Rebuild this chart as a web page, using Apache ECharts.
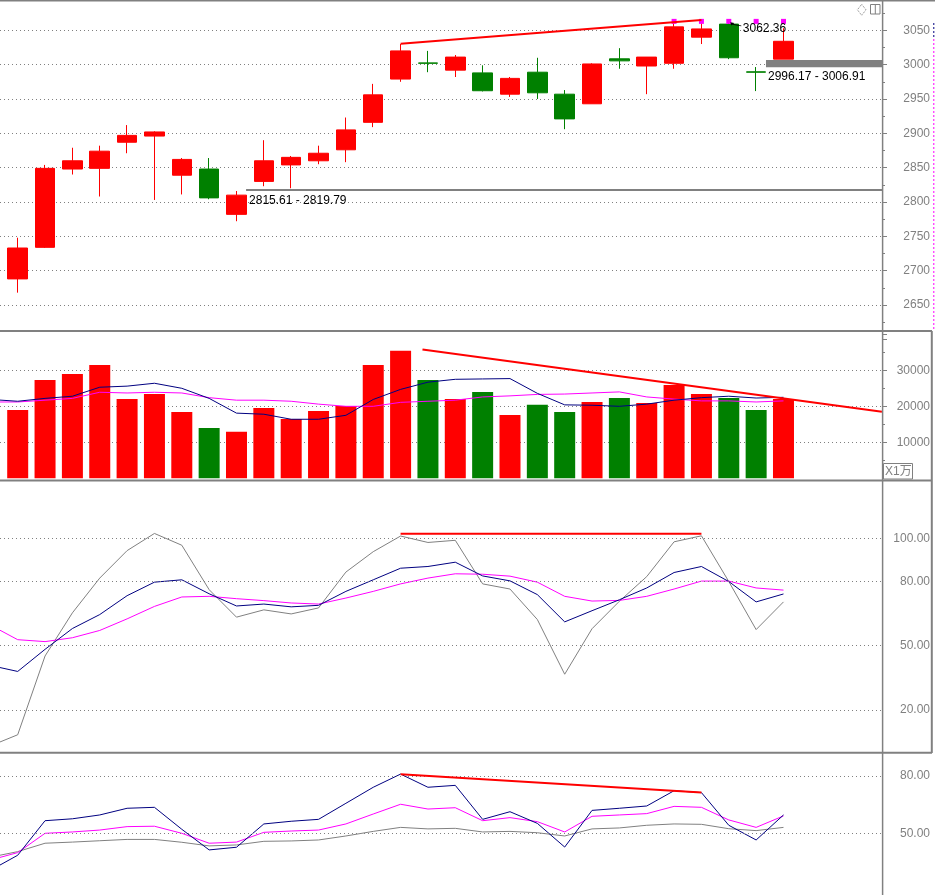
<!DOCTYPE html>
<html><head><meta charset="utf-8">
<script src="https://cdn.jsdelivr.net/npm/echarts@6/dist/echarts.min.js"></script>
<style>html,body{margin:0;padding:0;background:#fff}#c{width:935px;height:895px}</style>
</head><body><div id="c"></div>
<script>
// ---------- data ----------
const openP  = [2688,2734,2848,2849,2887,2896,2839,2848,2782,2830,2854,2860,2876,2916,2979,3002.5,2992,2988,2957,2989,2957,2943,3008.5,2998,3002,3040,3059,2989.5,3008];
const closeP = [2733,2849,2860,2874,2897,2902,2862,2806,2810,2860,2865,2871,2905,2956,3020,3002,3011,2962,2980,2959,2921,3001,3005.5,3011,3055,3052,3010,2989,3034];
const highP  = [2748,2854,2879,2882,2912,2903,2864,2864,2816,2890,2867,2882,2923,2972,3030,3020,3014,2999,2982,3010,2963,3002,3024,3011,3060,3062,3062.36,2996.5,3053];
const lowP   = [2668,2733,2840,2808,2871,2803,2811,2804,2772,2823,2820,2855,2858,2909,2975,2989,2982,2961,2953,2950,2906,2943,2994,2957,2994,3030,3008,2961.5,3008];

const volume = [18970,27300,29000,31500,22000,23400,18400,14000,12900,19500,16500,18700,20100,31500,35400,27300,22000,24000,17600,20400,18400,21200,22300,20900,25900,23400,22300,19000,22000];
const volMA5  = [21400,22200,22800,25300,25600,26400,25000,22200,18100,17800,16400,16400,17500,21900,24700,26700,27500,27600,27700,23600,20400,20300,20000,20600,21700,22400,22800,22300,22500];
const volMA10 = [21200,21700,22200,23900,23700,23900,23700,22400,21700,21700,21400,20600,20000,20000,21100,21400,21700,22600,22900,23300,23400,23700,24000,22600,22000,21500,21500,21200,21500];
const volMA5Lead = 21900, volMA10Lead = 21200;

const kdjJ = [8.5,45.2,65.3,81.5,94.3,102.3,96.8,76.1,63.3,66.7,64.8,67.6,84.3,93.8,101.1,98.1,99.1,78.8,76.4,62.2,36.7,57.9,70.7,82.2,98.4,101.2,79.9,57.5,70.4];
const kdjK = [38.0,48.3,58.0,64.5,73.3,79.6,80.7,74.2,68.5,69.4,68.1,68.8,75.3,80.7,86.1,86.9,88.9,82.5,80.2,73.8,61.1,66.3,71.4,76.9,84.1,86.9,79.9,70.4,74.1];
const kdjD = [52.8,51.9,53.7,57.1,62.5,68.3,72.7,73.0,71.9,71.0,69.9,69.4,72.2,75.3,78.8,81.5,83.5,83.3,82.4,79.6,73.0,70.8,71.1,73.0,76.4,80.1,80.1,76.9,75.9];
const kdjJLead = 3.3, kdjKLead = 40.8, kdjDLead = 59.6;

const rsiA = [38.5,56.6,57.6,59.6,63.1,63.6,52.1,41.3,42.7,54.9,56.3,57.3,65.7,74.1,81.0,74.1,75.1,57.3,61.3,55.2,42.8,62.0,63.1,64.3,72.3,71.3,54.2,46.5,59.6];
const rsiB = [39.9,50.0,50.7,51.7,53.5,53.7,50.0,44.8,45.4,50.5,51.2,51.7,54.9,60.1,65.2,62.7,63.4,56.6,58.2,56.1,50.7,58.9,59.6,60.3,64.1,63.6,57.0,53.1,59.1];
const rsiC = [40.4,44.8,45.4,46.1,46.8,46.8,45.3,43.4,43.9,45.8,46.0,46.5,48.6,51.0,53.1,52.3,52.6,50.7,51.0,50.3,48.6,52.3,52.8,54.2,54.9,54.7,52.4,51.4,53.1];
const rsiALead = 30.6, rsiBLead = 36.0, rsiCLead = 37.5;

// trend lines / annotations (x = bar index, y = value)
const trendPriceX = [14, 25], trendPriceY = [3030.5, 3065];
const trendVolX = [14.8, 31.6], trendVolY = [35800, 18500];
const trendKdjX = [14, 25], trendKdjY = [102.1, 102.1];
const trendRsiX = [14, 25], trendRsiY = [80.9, 71.3];
const supportRange = [2815.61, 2819.79], supportFrom = 8.35;
const bandRange = [2996.17, 3006.91], bandFrom = 27.36;
const peakIndex = 26, peakValue = 3062.36;
const signalIdx = [24, 25, 26, 27, 28], signalValue = 3063;

const priceTicks = [2650, 3050];       // label range
const volLabels = [10000, 20000, 30000];
const kdjLevels = [20, 50, 80, 100];
const rsiLevels = [50, 80];

// ---------- styling ----------
const RED = '#ff0000', GREEN = '#008000', NAVY = '#000080', MAG = '#ff00ff', GRAY = '#808080';
const FONT = 'Liberation Sans, Arial, sans-serif';
const X_MIN = -0.6472, X_MAX = 31.602;
const DOT = [1, 3];

const chart = echarts.init(document.getElementById('c'), null, {renderer: 'canvas'});

const grids = [
  {left: 0, width: 882, top: -4.04, height: 343.4},
  {left: 0, width: 882, top: 334.3, height: 144},
  {left: 0, width: 882, top: 480, height: 273},
  {left: 0, width: 882, top: 753, height: 156.7}
].map(g => Object.assign(g, {containLabel: false, outerBoundsMode: 'none'}));

const xAxes = [0, 1, 2, 3].map(g => ({type: 'value', gridIndex: g, min: X_MIN, max: X_MAX, show: false,
  axisLine: {onZero: false}}));

const lbl = (fmt) => ({show: true, formatter: fmt, align: 'right', margin: 48, color: GRAY, fontSize: 12, fontFamily: FONT});
const near = (v, arr) => arr.some(a => Math.abs(a - v) < 1e-6);
const noLine = {show: false, onZero: false};

const yAxes = [
  {type: 'value', gridIndex: 0, position: 'right', min: 2600, max: 3100, interval: 50,
   axisLine: noLine,
   axisTick: {show: true, length: 5, lineStyle: {color: GRAY}},
   minorTick: {show: true, splitNumber: 2, length: 3, lineStyle: {color: GRAY}},
   splitLine: {show: true, showMinLine: false, showMaxLine: false, lineStyle: {type: DOT, color: GRAY, width: 1}},
   axisLabel: lbl(v => (v >= priceTicks[0] && v <= priceTicks[1]) ? String(v) : '')},
  {type: 'value', gridIndex: 1, position: 'right', min: 0, max: 40000, interval: 10000,
   axisLine: noLine,
   axisTick: {show: true, length: 5, lineStyle: {color: GRAY}},
   minorTick: {show: true, splitNumber: 2, length: 3, lineStyle: {color: GRAY}},
   splitLine: {show: true, showMinLine: false, showMaxLine: false, lineStyle: {type: DOT, color: GRAY, width: 1}},
   axisLabel: lbl(v => near(v, volLabels) ? String(v) : '')},
  {type: 'value', gridIndex: 2, position: 'right', min: 0, max: 127.2, interval: 10,
   axisLine: noLine, axisTick: {show: false}, splitLine: {show: false},
   axisLabel: lbl(v => near(v, kdjLevels) ? v.toFixed(2) : '')},
  {type: 'value', gridIndex: 3, position: 'right', min: 10, max: 92.04, interval: 10,
   axisLine: noLine, axisTick: {show: false}, splitLine: {show: false},
   axisLabel: lbl(v => near(v, rsiLevels) ? v.toFixed(2) : '')}
];

const withLead = (lead, arr) => [[-1, lead]].concat(arr.map((v, i) => [i, v]));
const line = (data, color, g, extra) => Object.assign({
  type: 'line', xAxisIndex: g, yAxisIndex: g, data, showSymbol: false, symbol: 'none',
  lineStyle: {color, width: 1}, itemStyle: {color}, silent: true, z: 3
}, extra || {});
const levelLines = (levels) => ({
  silent: true, symbol: ['none', 'none'], label: {show: false},
  lineStyle: {type: DOT, color: GRAY, width: 1}, emphasis: {disabled: true},
  data: levels.map(v => ({yAxis: v}))
});
const pairs = (xs, ys) => xs.map((x, i) => [x, ys[i]]);
const txt = (text, coord, offset) => ({
  coord, symbol: 'rect', symbolSize: 1, itemStyle: {color: 'rgba(0,0,0,0)'},
  label: {show: true, formatter: text, position: 'inside', align: 'left', verticalAlign: 'middle',
          offset, color: '#000', fontSize: 12, fontFamily: FONT}
});

const supportMid = (supportRange[0] + supportRange[1]) / 2;

const series = [
  {type: 'candlestick', xAxisIndex: 0, yAxisIndex: 0, barWidth: 20,
   data: openP.map((o, i) => [i, o, closeP[i], lowP[i], highP[i]]),
   encode: {x: 0, y: [1, 2, 3, 4]},
   itemStyle: {color: RED, color0: GREEN, borderColor: RED, borderColor0: GREEN, borderWidth: 1},
   silent: true, z: 2},
  {type: 'scatter', xAxisIndex: 0, yAxisIndex: 0, symbol: 'rect', symbolSize: 5,
   data: signalIdx.map(i => [i, signalValue]), itemStyle: {color: MAG, opacity: 1}, silent: true, z: 4},
  line(pairs(trendPriceX, trendPriceY), RED, 0, {lineStyle: {color: RED, width: 2}, z: 5,
    markLine: {silent: true, symbol: ['none', 'none'], label: {show: false},
      lineStyle: {type: 'solid', color: GRAY, width: 2},
      data: [[{coord: [supportFrom, supportMid]}, {coord: [X_MAX, supportMid]}]]},
    markArea: {silent: true, itemStyle: {color: GRAY, opacity: 1}, label: {show: false},
      data: [[{coord: [bandFrom, bandRange[1]]}, {coord: [X_MAX, bandRange[0]]}]]},
    markPoint: {silent: true, data: [
      txt(supportRange[0].toFixed(2) + ' - ' + supportRange[1].toFixed(2), [supportFrom, supportMid], [3, 10.5]),
      txt(bandRange[0].toFixed(2) + ' - ' + bandRange[1].toFixed(2), [bandFrom, bandRange[0]], [2, 9.6]),
      txt(peakValue.toFixed(2), [peakIndex, peakValue], [14, 7]),
      {coord: [peakIndex, peakValue], symbol: 'path://M0,0L4,1L3,2L11,4L11,5L2,3L1,4Z',
       symbolSize: [11, 4], symbolOffset: [7, 2.5], itemStyle: {color: '#000'}, label: {show: false}}
    ]}}),
  {type: 'bar', xAxisIndex: 1, yAxisIndex: 1, barWidth: 21, silent: true, z: 2,
   data: volume.map((v, i) => ({value: [i, v], itemStyle: {color: closeP[i] >= openP[i] ? RED : GREEN}}))},
  line(withLead(volMA10Lead, volMA10), MAG, 1),
  line(withLead(volMA5Lead, volMA5), NAVY, 1),
  line(pairs(trendVolX, trendVolY), RED, 1, {lineStyle: {color: RED, width: 2}, z: 5, clip: false}),
  line(withLead(kdjJLead, kdjJ), GRAY, 2, {markLine: levelLines(kdjLevels)}),
  line(withLead(kdjDLead, kdjD), MAG, 2),
  line(withLead(kdjKLead, kdjK), NAVY, 2),
  line(pairs(trendKdjX, trendKdjY), RED, 2, {lineStyle: {color: RED, width: 2}, z: 5}),
  line(withLead(rsiCLead, rsiC), GRAY, 3, {markLine: levelLines(rsiLevels)}),
  line(withLead(rsiBLead, rsiB), MAG, 3),
  line(withLead(rsiALead, rsiA), NAVY, 3),
  line(pairs(trendRsiX, trendRsiY), RED, 3, {lineStyle: {color: RED, width: 2}, z: 5})
];

// frame / chrome of the terminal window
const hl = (y, x1, x2, w) => ({type: 'line', silent: true, z: 10, shape: {x1, y1: y, x2, y2: y}, style: {stroke: GRAY, lineWidth: w}});
const vl = (x, y1, y2, w, color, dash) => ({type: 'line', silent: true, z: 10, shape: {x1: x, y1, x2: x, y2}, style: {stroke: color || GRAY, lineWidth: w, lineDash: dash || null}});
const graphic = [
  hl(0.75, 0, 935, 1.5),
  hl(331, 0, 932, 2),
  hl(480.6, 0, 932, 2),
  hl(752.8, 0, 932, 2),
  vl(882.6, 0, 895, 1.5),
  vl(931.8, 331, 753, 2),
  vl(933.8, 23, 37, 1, NAVY, [2, 2]),
  vl(933.8, 39, 330, 1, MAG, [2, 2]),
  {type: 'rect', silent: true, z: 10, shape: {x: 883.5, y: 463.5, width: 29, height: 15.5}, style: {fill: '#fff', stroke: GRAY, lineWidth: 1}},
  {type: 'text', silent: true, z: 11, x: 885, y: 471.5, style: {text: 'X1万', fill: GRAY, fontSize: 12, fontFamily: 'Liberation Sans, Noto Sans CJK SC, sans-serif', verticalAlign: 'middle'}},
  {type: 'polygon', silent: true, z: 10, shape: {points: [[861.7, 4.3], [866, 9.8], [861.7, 15.3], [857.4, 9.8]]}, style: {fill: 'none', stroke: GRAY, lineWidth: 1, lineDash: [1, 1]}},
  {type: 'rect', silent: true, z: 10, shape: {x: 870.5, y: 4.5, width: 9.5, height: 9.5}, style: {fill: 'none', stroke: GRAY, lineWidth: 1}},
  vl(875.3, 4.5, 14, 1)
];

chart.setOption({
  animation: false,
  backgroundColor: '#fff',
  grid: grids,
  xAxis: xAxes,
  yAxis: yAxes,
  series,
  graphic
});
</script></body></html>
